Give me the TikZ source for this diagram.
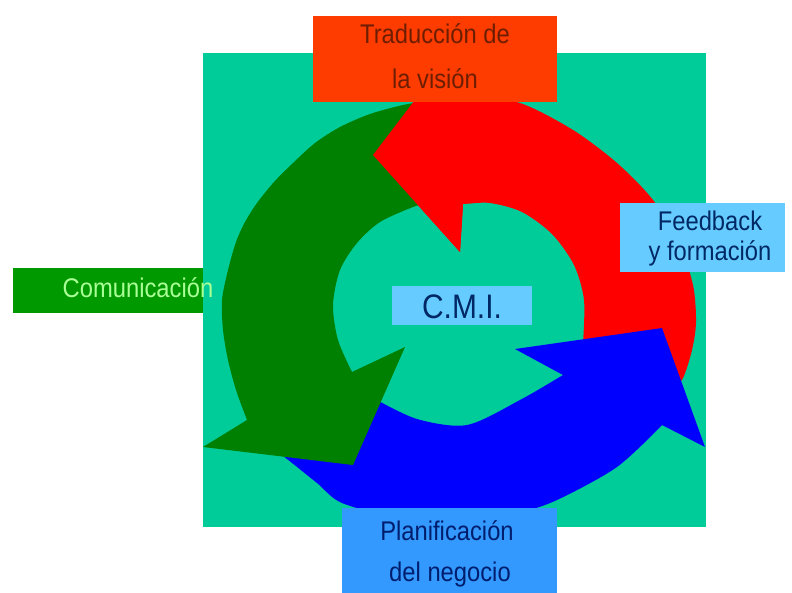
\documentclass[tikz,border=0pt]{standalone}
\usepackage{fontspec}
\setmainfont{Liberation Sans}
\newfontfamily\boxfont[FakeStretch=0.88]{Liberation Sans}
\definecolor{bgteal}{RGB}{0,204,153}
\definecolor{arrred}{RGB}{255,0,0}
\definecolor{arrgreen}{RGB}{0,128,0}
\definecolor{arrblue}{RGB}{0,0,255}
\definecolor{boxorange}{RGB}{255,60,0}
\definecolor{boxsky}{RGB}{102,204,255}
\definecolor{boxplan}{RGB}{51,153,255}
\definecolor{boxgreen}{RGB}{0,153,0}
\definecolor{txtbrown}{RGB}{110,30,0}
\definecolor{txtnavy}{RGB}{0,40,100}
\definecolor{txtdeep}{RGB}{0,30,110}
\definecolor{txtpale}{RGB}{170,255,150}
\newcommand{\RedArrowPath}{(373,155) -- (434,75) -- (470,97)
  -- plot[smooth] coordinates {(470,97) (520,103) (573,130) (617,163) (653,200) (679,243) (693,285) (696,322) (692,350) (683,378) (672,390)}
  -- (583,343)
  -- plot[smooth] coordinates {(583,343) (584,300) (574,265) (552,234) (522,212) (490,203) (463,204)}
  -- (460,252) -- cycle}
\begin{document}
\begin{tikzpicture}[x=1pt,y=-1pt,
  box/.style={draw=none, inner sep=0pt, outer sep=0pt},
  lbl/.style={inner sep=0pt, anchor=base, font=\boxfont\fontsize{27}{30}\selectfont},
  biglbl/.style={inner sep=0pt, anchor=base, font=\boxfont\fontsize{34}{36}\selectfont}]
\useasboundingbox (0,0) rectangle (792,592);
% Comunicacion box (behind the background)
\node[box, fill=boxgreen, minimum width=249pt, minimum height=45pt] (commbox) at (137.5,290.5) {};
% background
\node[box, fill=bgteal, minimum width=503pt, minimum height=474pt] (bg) at (454.5,290) {};
% arrows
\fill[arrred] \RedArrowPath;
\fill[arrblue] (375,399) -- (262,440)
  -- plot[smooth] coordinates {(262,440) (287,459) (317,483) (342,503) (400,518) (460,521) (520,512) (557,500) (617,467) (662,425)}
  -- (705,447) -- (662,328) -- (515,349) -- (563,375)
  -- plot[smooth] coordinates {(563,375) (520,400) (467,425) (417,419) (375,399)}
  -- cycle;
\fill[arrgreen] (432,100)
  -- plot[smooth] coordinates {(432,100) (403,105) (370,114) (340,127) (315,143) (293,163) (274,182) (257,203) (245,222) (236,242) (228,270) (222,300) (223,330) (228,360) (236,390) (247,420)}
  -- (203,447) -- (353,465) -- (405,347) -- (352,372)
  -- plot[smooth] coordinates {(352,372) (338,340) (333,305) (340,270) (357,243) (380,222) (413,207) (425,204)}
  -- cycle;
\begin{scope}
  \clip (340,60) rectangle (480,262);
  \fill[arrred] \RedArrowPath;
\end{scope}
% boxes
\node[box, fill=boxorange, minimum width=244pt, minimum height=86pt] (trad) at (435,59) {};
\node[box, fill=boxsky, minimum width=165pt, minimum height=69pt] (feed) at (702.5,237.5) {};
\node[box, fill=boxsky, minimum width=140pt, minimum height=39pt] (cmi) at (462,305.5) {};
\node[box, fill=boxplan, minimum width=215pt, minimum height=90pt] (plan) at (449.5,553) {};
% texts
\node[lbl, text=txtbrown] (tradA) at (435,43) {Traducción de};
\node[lbl, text=txtbrown] (tradB) at (435,88) {la visión};
\node[lbl, text=txtnavy] (feedA) at (710,230) {Feedback};
\node[lbl, text=txtnavy] (feedB) at (710,260) {y formación};
\node[biglbl, text=txtnavy] (cmiT) at (462,318) {C.M.I.};
\node[lbl, text=txtpale] (commT) at (138,297) {Comunicación};
\node[lbl, text=txtdeep] (planA) at (447,540) {Planificación};
\node[lbl, text=txtdeep] (planB) at (450,581) {del negocio};
\end{tikzpicture}
\end{document}
